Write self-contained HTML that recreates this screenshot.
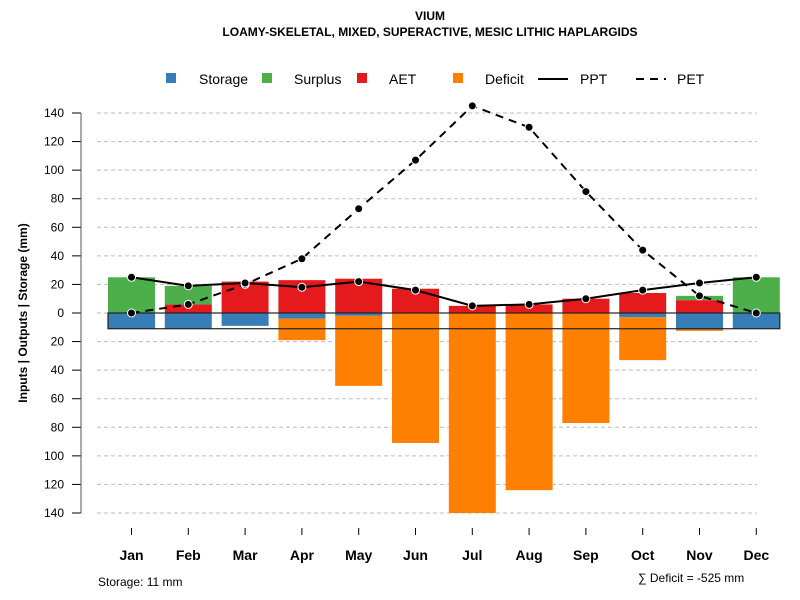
<!DOCTYPE html>
<html><head><meta charset="utf-8"><style>
body{margin:0;background:#fff}
svg{display:block;font-family:"Liberation Sans",Arial,sans-serif}
</style></head><body>
<svg id="chart" width="800" height="600" xmlns="http://www.w3.org/2000/svg">
<text x="430" y="20" font-size="12" font-weight="bold" text-anchor="middle">VIUM</text>
<text x="430" y="36" font-size="12" font-weight="bold" text-anchor="middle">LOAMY-SKELETAL, MIXED, SUPERACTIVE, MESIC LITHIC HAPLARGIDS</text>
<g id="grid"></g>
<g id="bars"></g>
<g id="yaxis"></g>
<g id="xaxis"></g>
<g id="lines"></g>
<text transform="translate(27,313) rotate(-90)" font-size="12" font-weight="bold" text-anchor="middle">Inputs | Outputs | Storage    (mm)</text>
<text x="98" y="586" font-size="12">Storage: 11 mm</text>
<text x="638" y="582" font-size="12">∑ Deficit = -525 mm</text>
<g>
<rect x="166" y="73" width="10" height="10" fill="#377eb8"/>
<text x="199" y="84" font-size="14">Storage</text>
<rect x="262" y="73" width="10" height="10" fill="#4daf4a"/>
<text x="294" y="84" font-size="14">Surplus</text>
<rect x="357" y="73" width="10" height="10" fill="#e41a1c"/>
<text x="389" y="84" font-size="14">AET</text>
<rect x="453" y="73" width="10" height="10" fill="#ff7f00"/>
<text x="485" y="84" font-size="14">Deficit</text>
<line x1="538" y1="79" x2="568" y2="79" stroke="#000" stroke-width="2"/>
<text x="580" y="84" font-size="14">PPT</text>
<line x1="636" y1="79" x2="666" y2="79" stroke="#000" stroke-width="2" stroke-dasharray="8,6"/>
<text x="677" y="84" font-size="14">PET</text>
</g>
</svg>
<script>
const months=["Jan","Feb","Mar","Apr","May","Jun","Jul","Aug","Sep","Oct","Nov","Dec"];
const storage=[-11,-11,-9,-4,-2,0,0,0,0,-3,-11.5,-11];
const surplus=[25,13,0,0,0,0,0,0,0,0,3,25];
const aet=[0,6,22,23,24,17,5,6,10,14,9,0];
const deficit=[0,0,0,-15,-49,-91,-140,-124,-77,-30,-1,0];
const ppt=[25,19,21,18,22,16,5,6,10,16,21,25];
const pet=[0,6,20,38,73,107,145,130,85,44,12,0];
const yTicks=[-140,-120,-100,-80,-60,-40,-20,0,20,40,60,80,100,120,140];
const storageCap=11;

const NS="http://www.w3.org/2000/svg";
const y=v=>313-v*200/140;
const x=i=>131.5+i*56.8;
const bw=47;
function mk(tag,attrs,parent){const e=document.createElementNS(NS,tag);for(const k in attrs)e.setAttribute(k,attrs[k]);parent.appendChild(e);return e;}
const grid=document.getElementById('grid'),bars=document.getElementById('bars'),ya=document.getElementById('yaxis'),xa=document.getElementById('xaxis'),ln=document.getElementById('lines');
yTicks.forEach(t=>{
  const g=mk('line',{x1:97,x2:757,y1:y(t),y2:y(t),stroke:'#bbb','stroke-dasharray':'4,3'},grid);
  
  
  const tk=mk('line',{x1:72,x2:81,y1:y(t),y2:y(t),stroke:'#000'},ya);
  
  
  const lb=mk('text',{x:64,y:y(t)+4,'font-size':12,'text-anchor':'end'},ya);
  lb.textContent=Math.abs(t);
  
  
});
const ax=mk('line',{x1:81,x2:81,y1:y(140),y2:y(-140),stroke:'#555'},ya);


function rect(v0,v1,i,col,name){
  if(v0===v1)return;
  const r=mk('rect',{x:x(i)-bw/2,y:Math.min(y(v0),y(v1)),width:bw,height:Math.abs(y(v0)-y(v1)),fill:col},bars);
  
  
}
months.forEach((m,i)=>{
  rect(0,aet[i],i,'#e41a1c','bar-aet-'+m.toLowerCase());
  rect(aet[i],aet[i]+surplus[i],i,'#4daf4a','bar-surplus-'+m.toLowerCase());
  rect(0,storage[i],i,'#377eb8','bar-storage-'+m.toLowerCase());
  rect(storage[i],storage[i]+deficit[i],i,'#ff7f00','bar-deficit-'+m.toLowerCase());
  const tk=mk('line',{x1:x(i),x2:x(i),y1:528,y2:535,stroke:'#000'},xa);
  
  
  const lb=mk('text',{x:x(i),y:560,'font-size':14,'font-weight':'bold','text-anchor':'middle'},xa);
  lb.textContent=m;
  
  
});
const box=mk('rect',{x:x(0)-bw/2,y:y(0),width:x(11)+bw/2-(x(0)-bw/2),height:y(-storageCap)-y(0),fill:'none',stroke:'#222','stroke-width':1.2},bars);


function series(arr,dash,name){
  const p=mk('polyline',{points:arr.map((v,i)=>x(i)+','+y(v)).join(' '),fill:'none',stroke:'#000','stroke-width':2,'stroke-dasharray':dash},ln);
  
  
  arr.forEach((v,i)=>{
    const c=mk('circle',{cx:x(i),cy:y(v),r:4,fill:'#000',stroke:'#fff','stroke-width':1},ln);
    
    
  });
}
series(pet,'8,6','pet');
series(ppt,'none','ppt');
</script>
</body></html>
